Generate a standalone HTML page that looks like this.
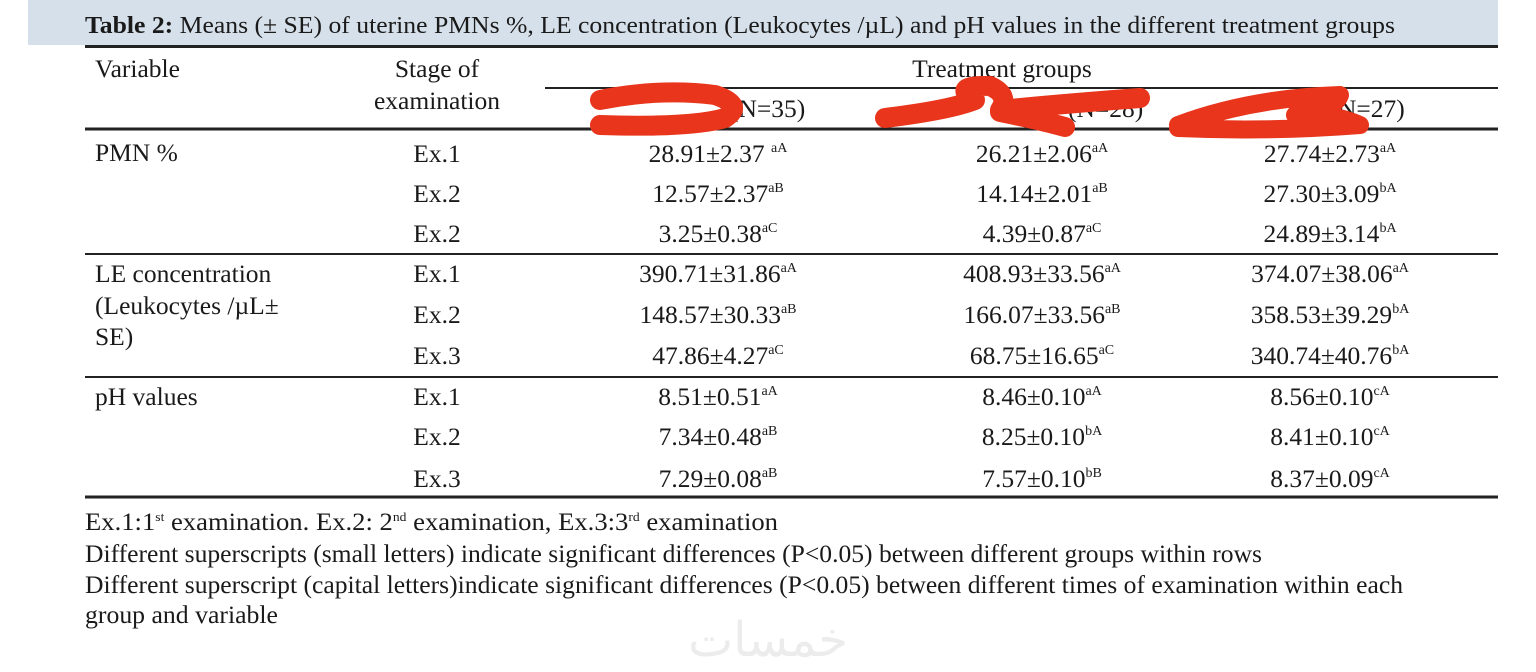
<!DOCTYPE html>
<html><head><meta charset="utf-8"><style>
body{margin:0;background:#fff;width:1536px;height:672px;overflow:hidden}
svg{display:block;font-family:"Liberation Serif",serif;fill:#1a1a1a}
</style></head><body>
<svg width="1536" height="672" viewBox="0 0 1536 672">
<rect x="28" y="0" width="1470" height="45" fill="#d6e0ea"/>
<text x="85" y="33" font-size="24" textLength="1310" lengthAdjust="spacingAndGlyphs"><tspan font-weight="bold">Table 2:</tspan> Means (± SE) of uterine PMNs %, LE concentration (Leukocytes /µL) and pH values in the different treatment groups</text>
<g stroke="#222">
<line x1="85" y1="46.5" x2="1498" y2="46.5" stroke-width="3"/>
<line x1="545" y1="88" x2="1498" y2="88" stroke-width="2"/>
<line x1="85" y1="129" x2="1498" y2="129" stroke-width="3"/>
<line x1="85" y1="254" x2="1498" y2="254" stroke-width="2"/>
<line x1="85" y1="377" x2="1498" y2="377" stroke-width="2"/>
<line x1="85" y1="497" x2="1498" y2="497" stroke-width="3"/>
</g>
<g font-size="25.5">
<text x="95" y="77">Variable</text>
<text x="437" y="77" text-anchor="middle">Stage of</text>
<text x="437" y="109" text-anchor="middle">examination</text>
<text x="1002" y="77" text-anchor="middle">Treatment groups</text>
<text x="730" y="117">(N=35)</text>
<text x="1068" y="117">(N=28)</text>
<text x="1338" y="117">N=27)</text>
<text x="95" y="161">PMN %</text>
<text x="95" y="282">LE concentration</text>
<text x="95" y="314">(Leukocytes /µL±</text>
<text x="95" y="345">SE)</text>
<text x="95" y="405">pH values</text>
</g>
<g id="cells" font-size="25.5"></g>
<g font-size="25.5">
<text x="85" y="530" textLength="693" lengthAdjust="spacingAndGlyphs">Ex.1:1<tspan font-size="13" dy="-9">st</tspan><tspan dy="9"> examination. Ex.2: 2</tspan><tspan font-size="13" dy="-9">nd</tspan><tspan dy="9">  examination,  Ex.3:3</tspan><tspan font-size="13" dy="-9">rd</tspan><tspan dy="9"> examination</tspan></text>
<text x="85" y="562" textLength="1177" lengthAdjust="spacingAndGlyphs">Different superscripts (small letters) indicate significant differences (P&lt;0.05) between different groups within rows</text>
<text x="85" y="593" textLength="1318" lengthAdjust="spacingAndGlyphs">Different superscript (capital letters)indicate significant differences (P&lt;0.05) between different times of examination within each</text>
<text x="85" y="623" textLength="193" lengthAdjust="spacingAndGlyphs">group and variable</text>
</g>
<text x="768" y="656" font-size="48" text-anchor="middle" fill="#ececec" style="font-family:'DejaVu Sans',sans-serif">خمسات</text>
<g fill="none" stroke="#e8351c" stroke-linecap="round" stroke-linejoin="round">
<path d="M600 100 Q660 88 715 95 Q745 105 725 118 Q690 128 600 125" stroke-width="20"/>
<path d="M885 118 Q950 110 975 100 Q950 85 990 86 Q1010 95 1000 110 Q1060 104 1140 98 M1000 112 Q1040 120 1065 127" stroke-width="20"/>
<path d="M1178 125 Q1250 98 1340 95 Q1335 110 1295 115 Q1330 112 1360 125 Q1270 132 1178 128" stroke-width="18"/>
</g>
</svg>
<script>
const stages=["Ex.1","Ex.2","Ex.2","Ex.1","Ex.2","Ex.3","Ex.1","Ex.2","Ex.3"];
const g1=["28.91±2.37 ","12.57±2.37","3.25±0.38","390.71±31.86","148.57±30.33","47.86±4.27","8.51±0.51","7.34±0.48","7.29±0.08"];
const g1s=["aA","aB","aC","aA","aB","aC","aA","aB","aB"];
const g2=["26.21±2.06","14.14±2.01","4.39±0.87","408.93±33.56","166.07±33.56","68.75±16.65","8.46±0.10","8.25±0.10","7.57±0.10"];
const g2s=["aA","aB","aC","aA","aB","aC","aA","bA","bB"];
const g3=["27.74±2.73","27.30±3.09","24.89±3.14","374.07±38.06","358.53±39.29","340.74±40.76","8.56±0.10","8.41±0.10","8.37±0.09"];
const g3s=["aA","bA","bA","aA","bA","bA","cA","cA","cA"];
const rowY=[162,202,242,282,323,364,405,445,487];
const NS="http://www.w3.org/2000/svg";
const cells=document.getElementById('cells');
function add(x,y,main,sup,anchor,name){
 const t=document.createElementNS(NS,'text');
 t.setAttribute('x',x);t.setAttribute('y',y);t.setAttribute('text-anchor',anchor);
 
 
 t.appendChild(document.createTextNode(main));
 if(sup){const s=document.createElementNS(NS,'tspan');s.setAttribute('font-size','14');s.setAttribute('dy','-10');s.textContent=sup;t.appendChild(s);}
 cells.appendChild(t);
}
for(let i=0;i<9;i++){
 add(437,rowY[i],stages[i],null,'middle','stage-cell');
 add(718,rowY[i],g1[i],g1s[i],'middle','group1-cell');
 add(1042,rowY[i],g2[i],g2s[i],'middle','group2-cell');
 add(1330,rowY[i],g3[i],g3s[i],'middle','group3-cell');
}
</script>
</body></html>
